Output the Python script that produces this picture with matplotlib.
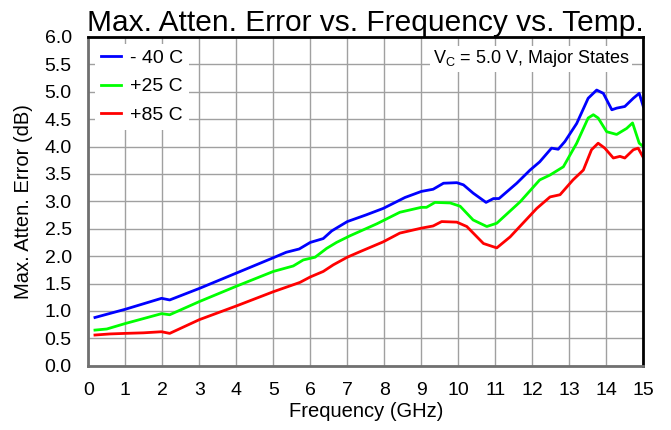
import numpy as np
import matplotlib
matplotlib.use("Agg")
import matplotlib.pyplot as plt

plt.rcParams['font.family'] = ['Liberation Sans', 'DejaVu Sans']

## -40 C
freq_m40 = [0.18, 1.0, 1.98, 2.2, 3.0, 4.0, 5.0, 5.35, 5.7, 6.0, 6.35, 6.58, 7.0, 7.5,
            7.97, 8.56, 9.0, 9.32, 9.6, 9.96, 10.14, 10.4, 10.75, 10.95, 11.1, 11.58,
            11.94, 12.2, 12.52, 12.7, 12.88, 13.2, 13.51, 13.74, 13.92, 14.15, 14.28,
            14.5, 14.73, 14.89, 15.0]
err_m40 = [0.88, 1.03, 1.23, 1.20, 1.41, 1.69, 1.97, 2.07, 2.13, 2.25, 2.32, 2.46, 2.63, 2.75,
           2.87, 3.07, 3.18, 3.22, 3.33, 3.34, 3.30, 3.15, 2.98, 3.05, 3.05, 3.33,
           3.57, 3.72, 3.97, 3.95, 4.09, 4.42, 4.88, 5.03, 4.97, 4.67, 4.70,
           4.73, 4.88, 4.97, 4.73]

## +25 C
freq_25 = [0.18, 0.5, 1.0, 1.49, 1.98, 2.2, 3.0, 4.0, 5.0, 5.54, 5.81, 6.13, 6.44, 6.71,
           7.07, 7.8, 8.42, 9.0, 9.14, 9.37, 9.78, 10.05, 10.4, 10.77, 11.04, 11.67,
           12.2, 12.48, 12.84, 13.2, 13.51, 13.65, 13.78, 14.01, 14.28, 14.55, 14.71,
           14.89, 15.0]
err_25 = [0.65, 0.67, 0.77, 0.86, 0.95, 0.93, 1.17, 1.45, 1.72, 1.82, 1.93, 1.98, 2.14, 2.25,
          2.37, 2.59, 2.80, 2.89, 2.89, 2.98, 2.97, 2.91, 2.66, 2.54, 2.60, 2.99,
          3.39, 3.48, 3.63, 4.06, 4.52, 4.58, 4.52, 4.27, 4.22, 4.33, 4.43,
          4.06, 4.0]

## +85 C
freq_85 = [0.18, 0.59, 1.0, 1.49, 1.98, 2.2, 3.0, 4.0, 5.0, 5.72, 6.0, 6.35, 6.62, 7.0,
           7.34, 7.97, 8.42, 9.0, 9.32, 9.55, 9.96, 10.23, 10.68, 11.04, 11.4, 11.76,
           12.12, 12.48, 12.75, 13.1, 13.38, 13.6, 13.78, 13.96, 14.19, 14.37, 14.5,
           14.73, 14.86, 15.0]
err_85 = [0.56, 0.58, 0.59, 0.60, 0.62, 0.59, 0.84, 1.09, 1.35, 1.52, 1.62, 1.72, 1.84, 1.98,
          2.08, 2.26, 2.42, 2.51, 2.55, 2.63, 2.62, 2.54, 2.23, 2.15, 2.35, 2.61,
          2.87, 3.08, 3.12, 3.39, 3.57, 3.94, 4.06, 3.97, 3.79, 3.82, 3.79,
          3.94, 3.97, 3.80]

fig = plt.figure(figsize=(6.71, 4.30), dpi=100)
ax = fig.add_axes([0.1316, 0.1495, 0.8271, 0.7647])

ax.plot(freq_m40, err_m40, color="#0000ff", lw=2, label="- 40 C")
ax.plot(freq_25, err_25, color="#00ff00", lw=2, label="+25 C")
ax.plot(freq_85, err_85, color="#ff0000", lw=2, label="+85 C")

ax.set_xlim(0, 15)
ax.set_ylim(0, 6)
ax.set_xticks(np.arange(0, 16, 1))
ax.set_yticks(np.arange(0, 6.01, 0.5))
ax.set_yticklabels(["%.1f" % v for v in np.arange(0, 6.01, 0.5)])
ax.tick_params(length=0, labelsize=14)
ax.tick_params(axis="y", pad=12)
ax.tick_params(axis="x", pad=12)
ax.grid(color="#a0a0a0", lw=1)
ax.set_axisbelow(True)
for s in ["left", "bottom"]:
    ax.spines[s].set_color("#707070")
    ax.spines[s].set_linewidth(2)
for s in ["top", "right"]:
    ax.spines[s].set_color("black")
    ax.spines[s].set_linewidth(2)

ax.set_xlabel("Frequency (GHz)", fontsize=14.5, labelpad=2)
ax.set_ylabel("Max. Atten. Error (dB)", fontsize=14.5, labelpad=8)
ax.set_title("Max. Atten. Error vs. Frequency vs. Temp.", fontsize=21.5, pad=2)

leg = ax.legend(loc="upper left", fontsize=14, frameon=True, fancybox=False,
                handlelength=1.05, handletextpad=0.45, borderpad=0.3,
                labelspacing=0.55, borderaxespad=0.35)
leg.get_frame().set_edgecolor("none")
leg.get_frame().set_facecolor("white")
leg.get_frame().set_alpha(1)

ax.text(0.975, 0.965, r"V$_\mathregular{C}$ = 5.0 V, Major States", transform=ax.transAxes,
        ha="right", va="top", fontsize=13,
        bbox=dict(facecolor="white", edgecolor="none", pad=2))

plt.savefig("out.png", dpi=100)
